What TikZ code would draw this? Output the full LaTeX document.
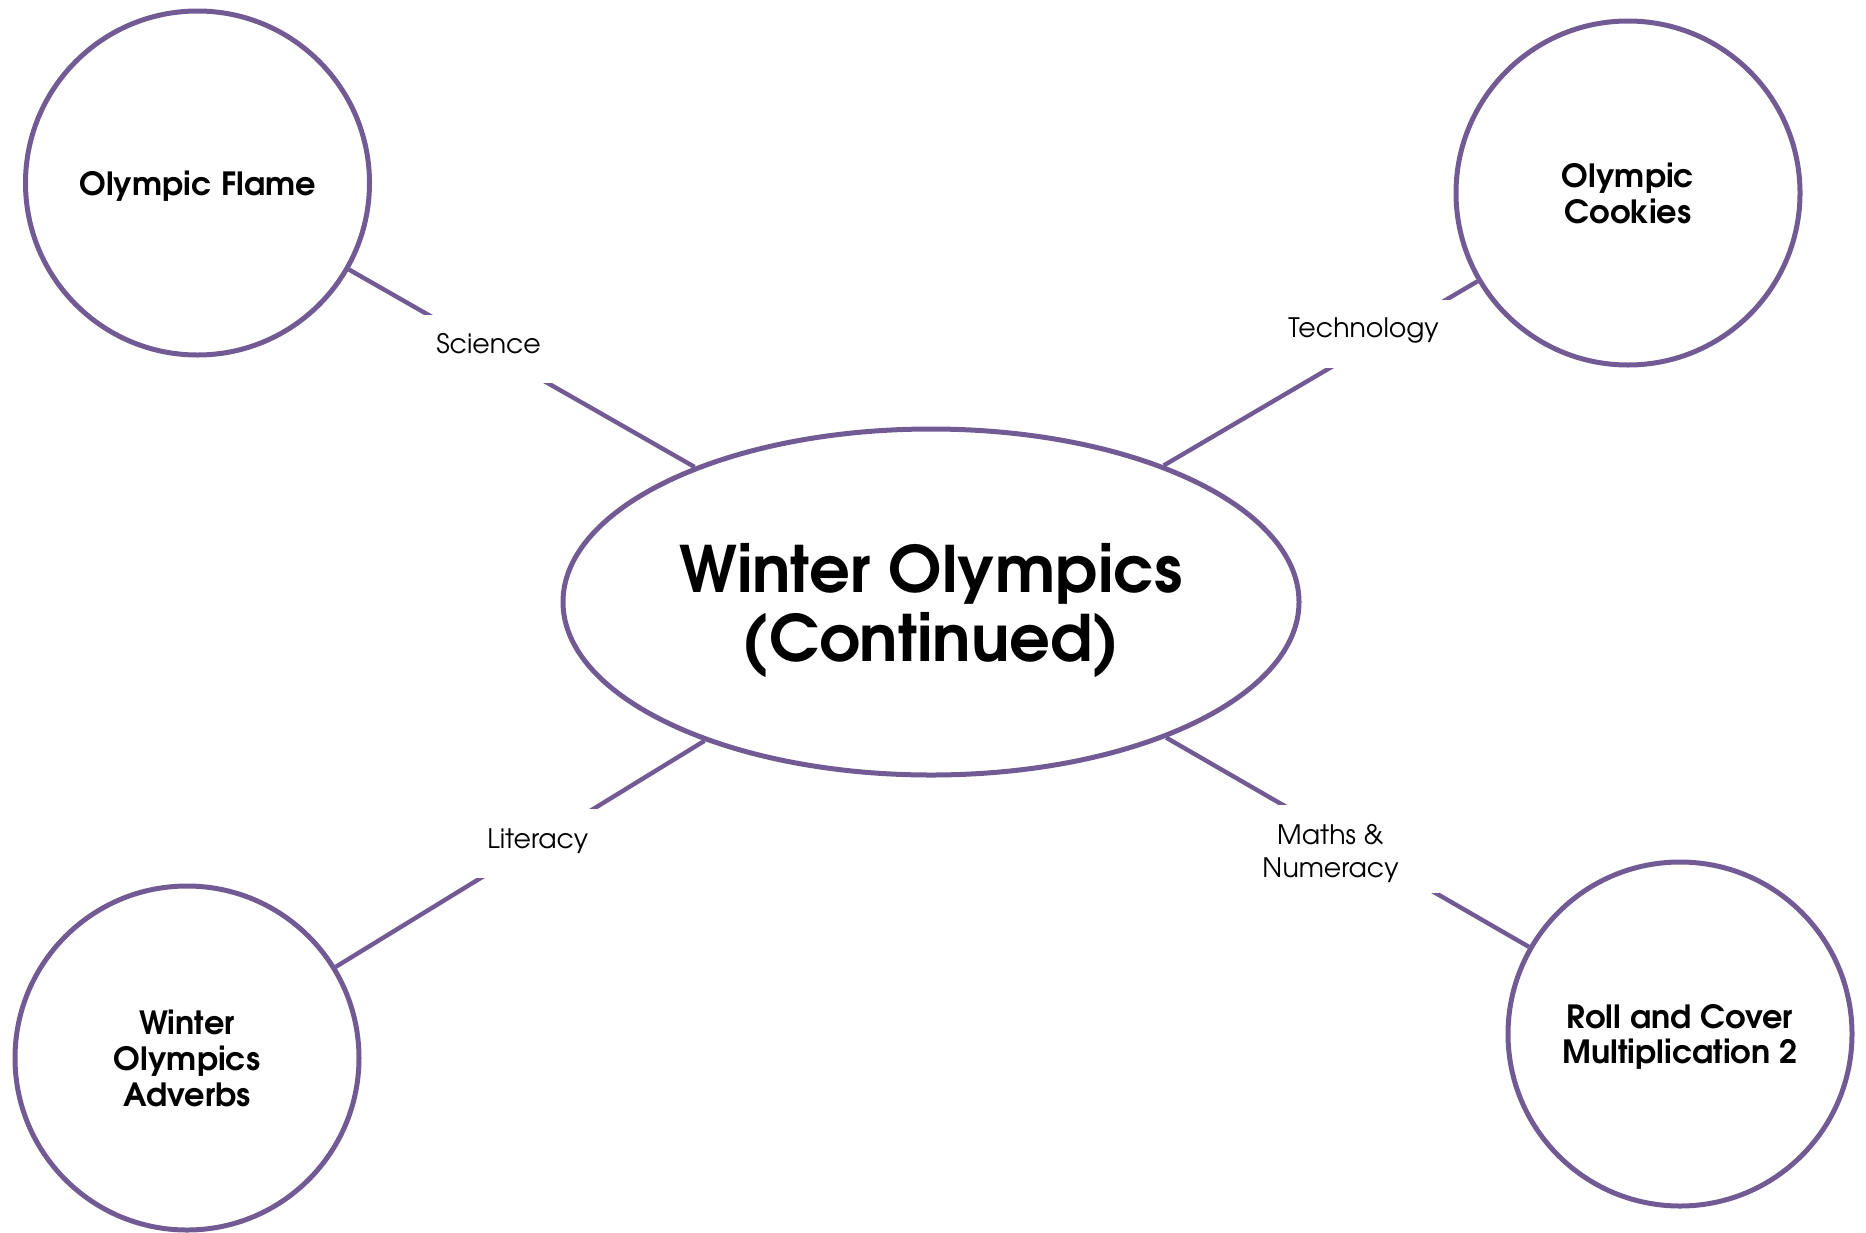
\documentclass[tikz,border=0pt]{standalone}
\usepackage{fontspec}
\setmainfont{TeX Gyre Adventor}
\usetikzlibrary{shapes.geometric}
\definecolor{ringc}{RGB}{114,91,148}
\begin{document}
\begin{tikzpicture}[x=0.5pt,y=-0.5pt,
  topic/.style={circle,draw=ringc,line width=2.5pt,minimum size=172pt,inner sep=0pt,align=center,text depth=0pt,font=\bfseries\fontsize{16}{17.9}\selectfont},
  hub/.style={ellipse,draw=ringc,line width=2.5pt,minimum width=368pt,minimum height=173pt,inner sep=0pt,align=center,text depth=0pt,font=\bfseries\fontsize{32}{34.5}\selectfont},
  link/.style={draw=ringc,line width=2.2pt},
  gap/.style={fill=white,inner sep=0pt,minimum width=80pt,minimum height=34pt},
  labtxt/.style={inner sep=0pt,align=center,text depth=0pt,font=\fontsize{13.4}{16.7}\selectfont}]
\useasboundingbox (0,0) rectangle (1866,1232);
\node[hub] (main) at (931,602) {Winter Olympics\\(Continued)};
\node[topic] (flame) at (197.5,183) {Olympic Flame};
\node[topic] (cookies) at (1628,193) {Olympic\\Cookies};
\node[topic] (adverbs) at (187,1058) {Winter\\Olympics\\Adverbs};
\node[topic] (roll) at (1680,1034) {Roll and Cover\\Multiplication 2};
\draw[link] (flame) -- node[gap,pos=0.404,label={[labtxt,yshift=3pt]center:Science}] (sgap) {} (main);
\draw[link] (cookies) -- node[gap,pos=0.285,label={[labtxt,xshift=-12.25pt,yshift=3pt]center:Technology}] (tgap) {} (main);
\draw[link] (main) -- node[gap,pos=0.456,minimum height=34.5pt,label={[labtxt,xshift=0.75pt,yshift=2.5pt]center:Literacy}] (lgap) {} (adverbs);
\draw[link] (main) -- node[gap,pos=0.533,minimum height=44pt,label={[labtxt,xshift=-14.5pt,yshift=-0.75pt]center:{Maths \&\\Numeracy}}] (mgap) {} (roll);
\end{tikzpicture}
\end{document}
